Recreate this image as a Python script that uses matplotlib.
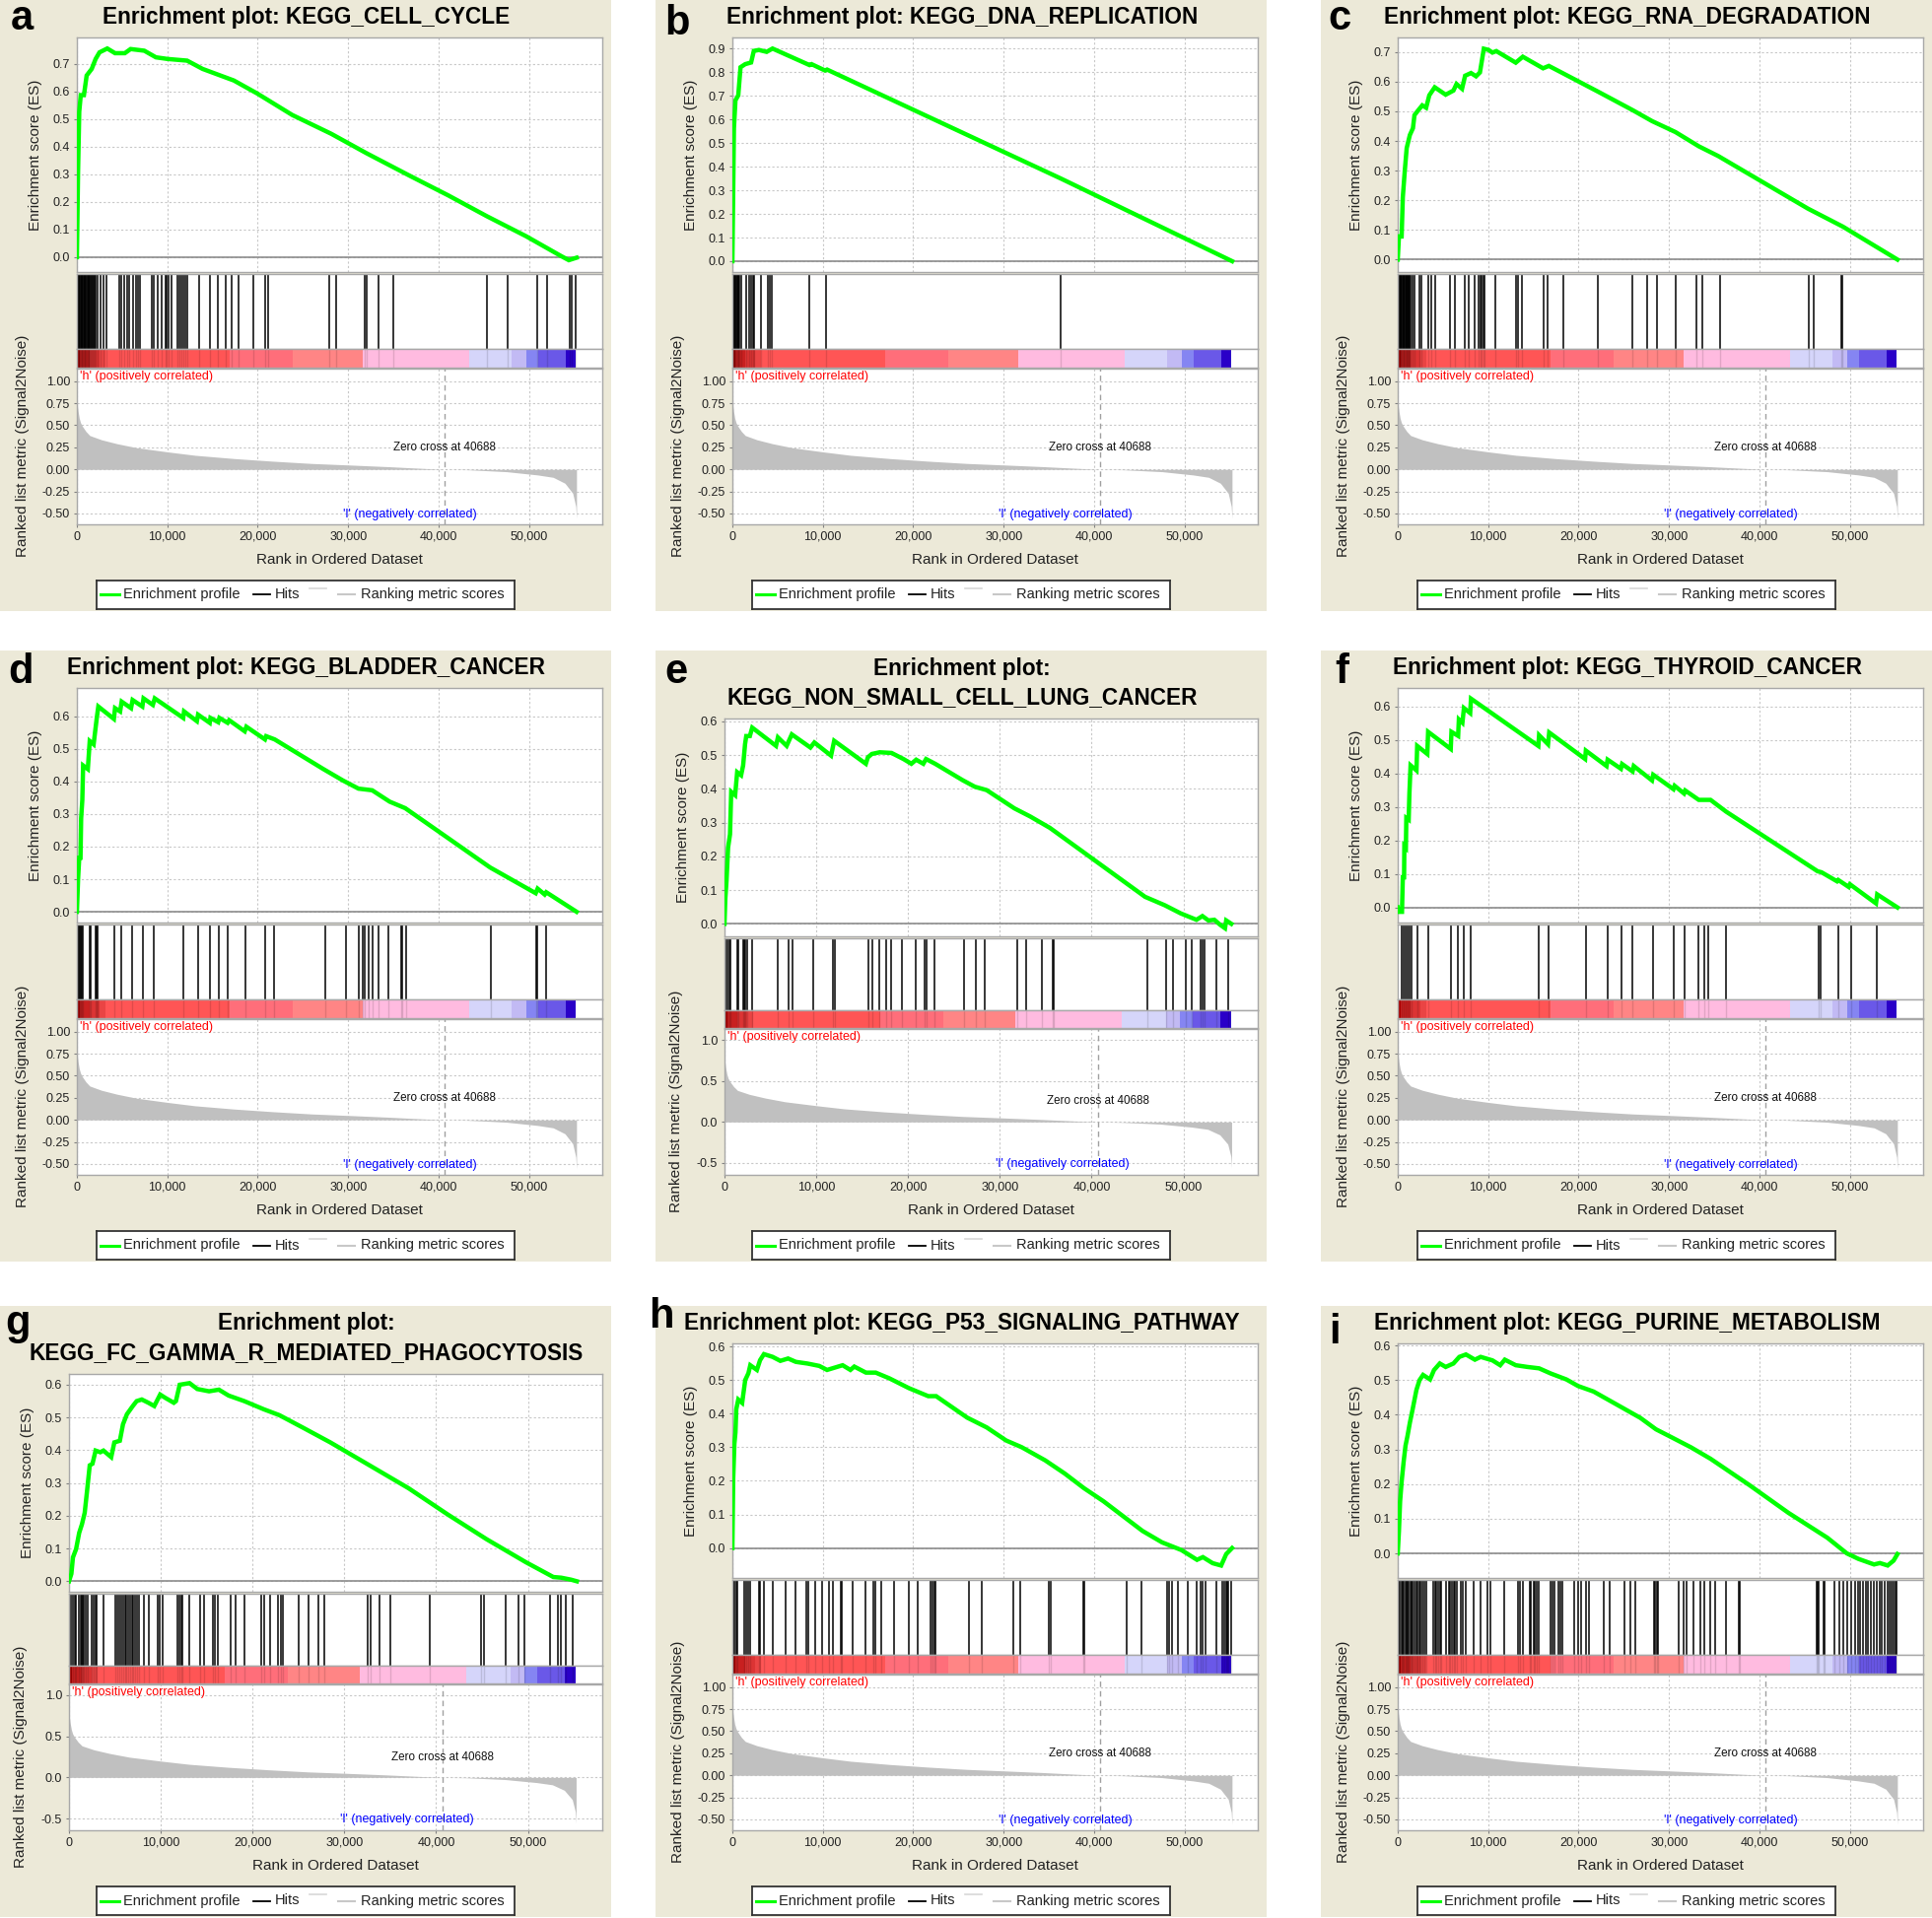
import matplotlib
matplotlib.use('Agg')
import matplotlib.pyplot as plt
from matplotlib.patches import Rectangle
from matplotlib.lines import Line2D

plt.rcParams['font.family'] = ['Liberation Sans', 'DejaVu Sans']

# ---------------- data ----------------
N_MAX = 55250
ZERO_CROSS = 40688
rank_ticks = [0, 10000, 20000, 30000, 40000, 50000]
rank_tick_labels = ['0', '10,000', '20,000', '30,000', '40,000', '50,000']

metric_rank = [0, 60, 130, 260, 400, 600, 1000, 1420, 2710, 4440, 6590, 10040, 13050, 17360, 21660,
               25970, 30280, 34590, 38250, 40688, 43200, 47510, 50950, 52670, 53970, 54830, 55170, 55250]
metric_val = [0.78, 0.72, 0.66, 0.58, 0.53, 0.49, 0.43, 0.384, 0.336, 0.291, 0.246, 0.198, 0.160, 0.123, 0.093,
              0.067, 0.049, 0.030, 0.011, 0.0, -0.004, -0.026, -0.063, -0.09, -0.157, -0.27, -0.42, -0.556]

cb_edges = [0, 340, 1420, 2500, 3140, 16930, 23820, 31660, 43330, 48070, 49660, 51040, 54050, 55200]
cb_colors = ['#A80000', '#C82020', '#DC3434', '#EA4444', '#FF5555', '#FF6E7A', '#FF8585',
             '#FFBBE0', '#D5D5FA', '#C2BAF4', '#8585F2', '#6A58E8', '#2A00C8']

titles = {
    'a': ['Enrichment plot: KEGG_CELL_CYCLE'],
    'b': ['Enrichment plot: KEGG_DNA_REPLICATION'],
    'c': ['Enrichment plot: KEGG_RNA_DEGRADATION'],
    'd': ['Enrichment plot: KEGG_BLADDER_CANCER'],
    'e': ['Enrichment plot:', 'KEGG_NON_SMALL_CELL_LUNG_CANCER'],
    'f': ['Enrichment plot: KEGG_THYROID_CANCER'],
    'g': ['Enrichment plot:', 'KEGG_FC_GAMMA_R_MEDIATED_PHAGOCYTOSIS'],
    'h': ['Enrichment plot: KEGG_P53_SIGNALING_PATHWAY'],
    'i': ['Enrichment plot: KEGG_PURINE_METABOLISM'],
}

es_a_rank = [0, 130, 260, 430, 780, 1080, 1640, 2070, 2500, 3360, 4220, 5300, 5940, 7450, 8740, 10040, 12190,
             13900, 17360, 19940, 23820, 28120, 32000, 36740, 41050, 45350, 49660, 53540, 54400, 55260]
es_a_val = [0, 0.313, 0.527, 0.587, 0.587, 0.658, 0.682, 0.718, 0.742, 0.756, 0.739, 0.739, 0.754, 0.748, 0.724,
            0.718, 0.712, 0.682, 0.640, 0.593, 0.515, 0.447, 0.377, 0.296, 0.224, 0.148, 0.076, 0.004, -0.011, -0.002]
hits_a = [30, 100, 180, 260, 330, 420, 500, 580, 660, 750, 830, 920, 1000, 1090, 1180, 1270, 1360, 1450, 1540,
          1640, 1750, 1860, 1970, 2070, 2280, 2630, 2930, 3230, 4650, 4870, 5210, 5510, 5810, 6160, 6590, 6810,
          7020, 8230, 8530, 8960, 9390, 9820, 9950, 10120, 10470, 11110, 11330, 11540, 11760, 11970, 12190,
          13480, 14770, 15630, 16500, 17140, 17870, 19510, 20800, 21150, 27910, 28640, 31790, 32000, 33380,
          35020, 45350, 47590, 50870, 52030, 54480, 54740, 55150]

es_b_rank = [0, 90, 170, 340, 650, 900, 1420, 2070, 2370, 2930, 3790, 4440, 8530, 8750, 10250, 10470, 36310, 55260]
es_b_val = [0, 0.299, 0.563, 0.681, 0.702, 0.821, 0.834, 0.841, 0.890, 0.894, 0.886, 0.900, 0.830, 0.834,
            0.807, 0.811, 0.350, 0.0]
hits_b = [20, 90, 170, 250, 340, 430, 520, 600, 690, 780, 990, 1510, 1850, 2070, 2280, 2410, 3140, 3920,
          4130, 4350, 8530, 10380, 36310]

es_c_rank = [0, 130, 430, 560, 780, 990, 1340, 1680, 1850, 2280, 2710, 3140, 3490, 4090, 5300, 6160, 6500,
             7110, 7450, 8100, 8660, 9090, 9520, 10040, 10470, 10900, 13050, 13830, 16070, 16710, 18220,
             22100, 25970, 28120, 30710, 33290, 35450, 45350, 49230, 55260]
es_c_val = [0, 0.078, 0.078, 0.21, 0.30, 0.376, 0.42, 0.443, 0.487, 0.504, 0.52, 0.512, 0.554, 0.581, 0.556,
            0.570, 0.592, 0.576, 0.620, 0.629, 0.618, 0.631, 0.711, 0.707, 0.698, 0.703, 0.664, 0.684, 0.645,
            0.653, 0.629, 0.567, 0.504, 0.467, 0.430, 0.382, 0.349, 0.172, 0.111, 0.0]
hits_c = [130, 220, 300, 380, 460, 540, 620, 700, 780, 860, 940, 1000, 1080, 1160, 1250, 1340, 1420, 1640,
          1850, 2410, 2630, 3360, 3660, 4090, 5810, 6370, 7370, 7800, 8530, 8960, 9170, 9300, 9430, 9560,
          10810, 13050, 13270, 13700, 16150, 16580, 18350, 22100, 25970, 27610, 28640, 30710, 33080, 33720,
          35660, 45480, 46000, 49010, 49140]

es_d_rank = [0, 130, 260, 400, 470, 600, 690, 1210, 1420, 1850, 2200, 2370, 4090, 4220, 4780, 4950, 5990, 6160,
             7240, 7370, 8400, 8610, 11760, 11850, 13270, 13400, 14690, 14770, 15630, 15760, 16670, 16840,
             18560, 18740, 20800, 20930, 21880, 27260, 29420, 31140, 32650, 34590, 36310, 45700, 50740,
             50950, 51730, 51900, 55260]
es_d_val = [0, 0.10, 0.166, 0.166, 0.287, 0.343, 0.449, 0.438, 0.524, 0.514, 0.595, 0.630, 0.592, 0.625,
            0.615, 0.645, 0.625, 0.650, 0.630, 0.655, 0.635, 0.655, 0.595, 0.615, 0.585, 0.605, 0.580, 0.595,
            0.582, 0.595, 0.580, 0.588, 0.554, 0.568, 0.529, 0.539, 0.529, 0.438, 0.403, 0.378, 0.373, 0.338,
            0.318, 0.136, 0.057, 0.071, 0.053, 0.060, 0.0]
hits_d = [90, 220, 340, 470, 560, 650, 1420, 1550, 2070, 2200, 2280, 4090, 4870, 6070, 7280, 8530, 11760,
          13390, 14770, 15720, 16710, 18650, 20800, 21790, 27480, 29760, 31230, 31570, 31870, 32220, 32650,
          33380, 34500, 35880, 36010, 36390, 45780, 50820, 50950, 51900]

es_e_rank = [0, 90, 220, 390, 600, 730, 1160, 1380, 1810, 2030, 2240, 2370, 2760, 3020, 5610, 5820, 6770,
             7330, 9360, 9790, 11610, 11950, 15400, 15620, 16050, 16910, 18200, 19500, 20360, 20880, 21660,
             21960, 22950, 25970, 27270, 28560, 31580, 33300, 35460, 45820, 47970, 49700, 51420, 52070,
             52720, 53370, 54010, 54530, 54660, 55220]
es_e_val = [0, 0.075, 0.128, 0.226, 0.265, 0.391, 0.381, 0.449, 0.440, 0.469, 0.532, 0.556, 0.556, 0.581,
            0.527, 0.552, 0.527, 0.561, 0.522, 0.537, 0.498, 0.542, 0.474, 0.493, 0.503, 0.508, 0.506, 0.488,
            0.474, 0.486, 0.474, 0.488, 0.474, 0.425, 0.406, 0.396, 0.342, 0.318, 0.284, 0.080, 0.055, 0.031,
            0.012, 0.023, 0.010, 0.012, -0.003, -0.013, 0.010, 0.0]
hits_e = [150, 300, 530, 680, 1360, 1470, 2040, 2190, 2300, 2420, 2980, 5770, 6940, 7400, 9660, 11850, 12000,
          15700, 16150, 16910, 17660, 18150, 19280, 20790, 21850, 22000, 22870, 26080, 27400, 28340, 31920,
          32870, 34570, 35810, 35890, 46080, 48080, 48910, 50230, 50870, 51920, 52110, 52300, 53620, 54870]

es_f_rank = [0, 130, 470, 560, 700, 730, 900, 950, 1210, 1290, 1420, 2070, 2150, 3270, 3360, 5860, 5940, 6680,
             6760, 7150, 7320, 8010, 8100, 15550, 15630, 16620, 16750, 20720, 20800, 23090, 23210, 24680,
             24810, 25970, 26100, 28120, 28250, 30490, 30620, 31660, 31790, 33290, 34590, 36310, 46430,
             46860, 48580, 48710, 49880, 50010, 52890, 53020, 55260]
es_f_val = [0, -0.013, -0.013, 0.09, 0.09, 0.183, 0.178, 0.267, 0.262, 0.340, 0.424, 0.409, 0.482, 0.458,
            0.524, 0.473, 0.524, 0.512, 0.561, 0.551, 0.595, 0.580, 0.623, 0.482, 0.514, 0.487, 0.522, 0.443,
            0.468, 0.422, 0.441, 0.414, 0.428, 0.406, 0.422, 0.379, 0.396, 0.353, 0.363, 0.340, 0.349, 0.321,
            0.321, 0.286, 0.108, 0.105, 0.078, 0.082, 0.061, 0.069, 0.012, 0.039, 0.0]
hits_f = [470, 650, 820, 1080, 1340, 1510, 2150, 3360, 5940, 6680, 7280, 8100, 15630, 16710, 20800, 23170,
          24770, 25970, 28210, 30490, 31700, 33290, 33850, 34370, 36310, 46560, 46770, 48710, 50090, 53020]

es_g_rank = [0, 260, 430, 770, 1110, 1410, 1710, 1960, 2260, 2560, 2900, 3410, 3750, 4600, 4940, 5540, 5880,
             6310, 6950, 7370, 7930, 8650, 9290, 9930, 10490, 11420, 11650, 12060, 13130, 13980, 15260,
             16330, 17390, 19100, 21230, 22930, 25490, 28470, 32740, 37000, 41260, 45520, 49790, 52770,
             53620, 54690, 55330]
es_g_val = [0, 0.023, 0.073, 0.098, 0.148, 0.174, 0.209, 0.274, 0.354, 0.359, 0.399, 0.394, 0.399, 0.379,
            0.424, 0.429, 0.479, 0.510, 0.535, 0.550, 0.555, 0.545, 0.535, 0.570, 0.560, 0.545, 0.550, 0.600,
            0.605, 0.587, 0.580, 0.585, 0.567, 0.550, 0.525, 0.507, 0.469, 0.424, 0.354, 0.284, 0.204, 0.128,
            0.058, 0.013, 0.011, 0.005, 0.0]
hits_g = [230, 420, 600, 790, 1060, 1280, 1430, 1550, 1660, 1810, 2040, 2490, 2680, 2940, 3060, 3810, 5060,
          5210, 5510, 5700, 5890, 6080, 6270, 6450, 6640, 6830, 7020, 7210, 7400, 7590, 8150, 8720, 9660,
          9850, 10230, 11850, 12000, 12190, 12300, 13060, 14300, 14760, 15700, 15890, 16270, 17660, 18150,
          19100, 20910, 21290, 21930, 22800, 23060, 23320, 25060, 26080, 27210, 27850, 32490, 32870, 33810,
          35060, 39290, 44870, 45210, 47590, 48990, 49590, 52380, 53250, 53550, 54120, 54870]

es_h_rank = [0, 90, 220, 340, 430, 650, 1080, 1420, 1770, 1980, 2710, 3060, 3490, 4440, 5300, 6160, 7020,
             8310, 9600, 10470, 12190, 13050, 13480, 14770, 15850, 17360, 19510, 21660, 22530, 25970, 28120,
             30280, 32000, 34590, 36740, 38890, 41050, 43200, 45350, 47510, 49660, 51380, 52030, 53110,
             54050, 54610, 55260]
es_h_val = [0, 0.207, 0.310, 0.344, 0.413, 0.442, 0.432, 0.500, 0.520, 0.544, 0.530, 0.559, 0.577, 0.569,
            0.557, 0.564, 0.554, 0.549, 0.542, 0.530, 0.544, 0.530, 0.540, 0.522, 0.522, 0.505, 0.476, 0.452,
            0.452, 0.388, 0.359, 0.320, 0.300, 0.261, 0.222, 0.178, 0.139, 0.095, 0.051, 0.017, -0.006,
            -0.035, -0.027, -0.045, -0.052, -0.018, 0.0]
hits_h = [20, 130, 260, 390, 520, 1340, 1510, 1770, 1940, 2930, 3060, 3490, 4440, 5940, 6930, 8180, 8400,
          9170, 9950, 10680, 11110, 11970, 12100, 13270, 14770, 15630, 15760, 16410, 17870, 19510, 20460,
          21880, 22100, 22310, 22440, 26190, 27610, 31050, 31790, 35020, 35230, 38810, 38890, 43630, 45270,
          48020, 48280, 48580, 49230, 50310, 51380, 51730, 52030, 52330, 53540, 54180, 54400, 54610, 54740,
          54830, 55170]

es_i_rank = [0, 130, 260, 430, 650, 860, 1080, 1340, 1640, 2070, 2410, 2800, 3570, 4010, 4650, 5300, 6160,
             6810, 7540, 8530, 9170, 10470, 11330, 11840, 13050, 14340, 15630, 16930, 18650, 19940, 21660,
             24250, 26830, 28560, 30280, 32430, 34590, 38890, 43200, 47510, 49660, 50950, 52670, 53320,
             54180, 54830, 55260]
es_i_val = [0, 0.064, 0.150, 0.207, 0.264, 0.311, 0.339, 0.377, 0.415, 0.472, 0.500, 0.515, 0.502, 0.529,
            0.548, 0.538, 0.548, 0.567, 0.574, 0.559, 0.567, 0.557, 0.543, 0.559, 0.543, 0.538, 0.534, 0.519,
            0.502, 0.483, 0.467, 0.429, 0.391, 0.358, 0.335, 0.306, 0.273, 0.197, 0.117, 0.045, 0.0, -0.016,
            -0.032, -0.028, -0.035, -0.021, -0.002]
hits_i = [130, 260, 390, 560, 690, 820, 950, 1080, 1250, 1380, 1510, 1680, 1850, 2070, 2200, 2370, 2500,
          2710, 2930, 3140, 3920, 4090, 4260, 4440, 4650, 4780, 5380, 5640, 5810, 5990, 6160, 6370, 6590,
          7020, 7240, 7540, 8440, 9170, 9950, 10250, 11760, 13270, 13570, 13830, 14560, 14770, 14990, 15200,
          15420, 15630, 16930, 17140, 17360, 17790, 18000, 18220, 19510, 19940, 20290, 20800, 21150, 22740,
          23390, 25110, 25760, 26320, 28340, 28470, 28640, 28770, 31050, 31570, 31910, 32650, 33510, 33940,
          34590, 35100, 36310, 37690, 37820, 46300, 46430, 46560, 47080, 47200, 48280, 48800, 49230, 49660,
          50090, 50610, 50870, 51170, 51470, 51730, 52030, 52330, 52670, 53020, 53320, 53540, 53880, 54180,
          54400, 54610, 54830, 55040, 55170]

es_ylims = {'a': (-0.054, 0.796), 'b': (-0.046, 0.947), 'c': (-0.042, 0.749), 'd': (-0.033, 0.687),
            'e': (-0.037, 0.608), 'f': (-0.045, 0.655), 'g': (-0.032, 0.633), 'h': (-0.089, 0.609),
            'i': (-0.071, 0.606)}
es_ntick = {'a': 8, 'b': 10, 'c': 8, 'd': 7, 'e': 7, 'f': 7, 'g': 7, 'h': 7, 'i': 7}

# ---------------- layout ----------------
W, H = 1960, 1946
XMAX = 58100
BEIGE = '#ECE9D8'
GRID = '#C8C8C8'
FRAME = '#A8A8A8'

LAYOUT = {
    'A': dict(left=78, right=611, es_top=38, es_bot=276, hits_top=278, cb_top=354, cb_bot=373, met_bot=532,
              met_ylim=(-0.623, 1.142), met_ticks=[1.0, 0.75, 0.5, 0.25, 0.0, -0.25, -0.5], met_fmt='%.2f',
              mlab_dx=55),
    'B': dict(left=70, right=611, es_top=69, es_bot=290, hits_top=292, cb_top=365, cb_bot=383, met_bot=532,
              met_ylim=(-0.644, 1.132), met_ticks=[1.0, 0.5, 0.0, -0.5], met_fmt='%.1f', mlab_dx=49),
}

panels = [
    ('a', (0, 0), 'A', es_a_rank, es_a_val, hits_a, (22, 30)),
    ('b', (665, 0), 'A', es_b_rank, es_b_val, hits_b, (22, 35)),
    ('c', (1340, 0), 'A', es_c_rank, es_c_val, hits_c, (19, 30)),
    ('d', (0, 660), 'A', es_d_rank, es_d_val, hits_d, (21, 33)),
    ('e', (665, 660), 'B', es_e_rank, es_e_val, hits_e, (21, 33)),
    ('f', (1340, 660), 'A', es_f_rank, es_f_val, hits_f, (21, 33)),
    ('g', (0, 1325), 'B', es_g_rank, es_g_val, hits_g, (18, 29)),
    ('h', (665, 1325), 'A', es_h_rank, es_h_val, hits_h, (6, 22)),
    ('i', (1340, 1325), 'A', es_i_rank, es_i_val, hits_i, (14, 38)),
]

fig = plt.figure(figsize=(W / 100, H / 100), dpi=100)
fig.patch.set_facecolor('white')


def px_axes(x0, y0, x1, y1):
    return fig.add_axes([x0 / W, 1 - y1 / H, (x1 - x0) / W, (y1 - y0) / H])


def ftext(x, y, s, **kw):
    return fig.text(x / W, 1 - y / H, s, **kw)


def style_frame(ax):
    for sp in ax.spines.values():
        sp.set_color(FRAME)
        sp.set_linewidth(1.0)


for letter, (ox, oy), lay, es_r, es_v, hits, (lx, ly) in panels:
    L = LAYOUT[lay]
    left, right = ox + L['left'], ox + L['right']
    # panel background
    fig.add_artist(Rectangle((ox / W, 1 - (oy + 620) / H), 620 / W, 620 / H, transform=fig.transFigure,
                             facecolor=BEIGE, edgecolor='none', zorder=-5))

    # --- ES plot ---
    ax = px_axes(left, oy + L['es_top'], right, oy + L['es_bot'])
    ax.set_facecolor('white')
    style_frame(ax)
    ax.set_xlim(0, XMAX)
    ax.set_ylim(*es_ylims[letter])
    yt = [k / 10 for k in range(es_ntick[letter])]
    ax.set_yticks(yt)
    ax.set_yticklabels(['%.1f' % v for v in yt])
    ax.set_xticks(rank_ticks)
    ax.set_xticklabels([])
    ax.grid(True, color=GRID, linestyle=(0, (2, 2)), linewidth=0.8)
    ax.axhline(0, color='#8C8C8C', linewidth=1.2, zorder=2)
    ax.plot(es_r, es_v, color='#00FF00', linewidth=3.2, zorder=3, solid_joinstyle='miter')
    ax.tick_params(axis='both', labelsize=9, length=2, color='#808080', pad=3, labelcolor='#222222')
    ax.tick_params(axis='x', length=0)

    # --- hits ---
    axh = px_axes(left, oy + L['hits_top'], right, oy + L['cb_top'])
    axh.set_facecolor('white')
    style_frame(axh)
    axh.set_xlim(0, XMAX)
    axh.set_ylim(0, 1)
    axh.set_xticks([])
    axh.set_yticks([])
    axh.vlines(hits, 0, 1, color='black', linewidth=1.1)

    # --- colour bar ---
    axc = px_axes(left, oy + L['cb_top'], right, oy + L['cb_bot'])
    axc.set_facecolor('white')
    style_frame(axc)
    axc.set_xlim(0, XMAX)
    axc.set_ylim(0, 1)
    axc.set_xticks([])
    axc.set_yticks([])
    for k, c in enumerate(cb_colors):
        axc.axvspan(cb_edges[k], cb_edges[k + 1], color=c, linewidth=0)
    axc.vlines(hits, 0, 1, color='black', linewidth=1.0, alpha=0.12)

    # --- ranked metric ---
    axm = px_axes(left, oy + L['cb_bot'] + 1, right, oy + L['met_bot'])
    axm.set_facecolor('white')
    style_frame(axm)
    axm.set_xlim(0, XMAX)
    axm.set_ylim(*L['met_ylim'])
    axm.set_yticks(L['met_ticks'])
    axm.set_yticklabels([L['met_fmt'] % v for v in L['met_ticks']])
    axm.set_xticks(rank_ticks)
    axm.set_xticklabels(rank_tick_labels)
    axm.grid(True, color=GRID, linestyle=(0, (2, 2)), linewidth=0.8)
    axm.fill_between(metric_rank, 0, metric_val, color='#C0C0C0', linewidth=0, zorder=2)
    axm.axvline(ZERO_CROSS, color='#A0A0A0', linestyle=(0, (4, 3)), linewidth=1.0, zorder=3)
    axm.tick_params(axis='both', labelsize=9, length=2, color='#808080', pad=3, labelcolor='#222222')
    axm.text(ZERO_CROSS, 0.25, 'Zero cross at 40688', ha='center', va='center', fontsize=8.4,
             color='#111111', zorder=4)
    axm.text(36800, -0.51, "'l' (negatively correlated)", ha='center', va='center', fontsize=9,
             color='#0000FF', zorder=4)
    ftext(left + 3, oy + L['cb_bot'] + 9, "'h' (positively correlated)", ha='left', va='center',
          fontsize=9, color='#FF0000')

    # --- labels ---
    ftext(left - 42, oy + (L['es_top'] + L['es_bot']) / 2, 'Enrichment score (ES)', rotation=90,
          ha='center', va='center', fontsize=11, color='#222222')
    ftext(left - L['mlab_dx'], oy + (L['cb_bot'] + L['met_bot']) / 2, 'Ranked list metric (Signal2Noise)',
          rotation=90, ha='center', va='center', fontsize=11, color='#222222')
    ftext((left + right) / 2, oy + 568, 'Rank in Ordered Dataset', ha='center', va='center',
          fontsize=11, color='#222222')

    # --- titles ---
    tl = titles[letter]
    if len(tl) == 1:
        ftext(ox + 311, oy + 17.5, tl[0], ha='center', va='center', fontsize=16.3, fontweight='bold')
    else:
        ftext(ox + 311, oy + 18, tl[0], ha='center', va='center', fontsize=16.3, fontweight='bold')
        ftext(ox + 311, oy + 48, tl[1], ha='center', va='center', fontsize=16.3, fontweight='bold')
    ftext(ox + lx, oy + ly, letter, ha='center', va='baseline', fontsize=30, fontweight='bold')

    # --- legend box ---
    lg = px_axes(ox + 98, oy + 589, ox + 522, oy + 618)
    lg.set_facecolor('white')
    for sp in lg.spines.values():
        sp.set_color('#333333')
        sp.set_linewidth(1.3)
    lg.set_xlim(0, 424)
    lg.set_ylim(29, 0)
    lg.set_xticks([])
    lg.set_yticks([])
    lg.add_line(Line2D([4, 23], [14.5, 14.5], color='#00FF00', linewidth=2.2))
    lg.text(27, 14.5, 'Enrichment profile', ha='left', va='center', fontsize=10.5, color='#222222')
    lg.add_line(Line2D([159, 176], [14.5, 14.5], color='black', linewidth=1.3))
    lg.text(181, 14.5, 'Hits', ha='left', va='center', fontsize=10.5, color='#222222')
    lg.add_line(Line2D([216, 233], [8, 8], color='#D8D8D8', linewidth=1.2))
    lg.add_line(Line2D([245, 262], [14.5, 14.5], color='#C8C8C8', linewidth=1.5))
    lg.text(268, 14.5, 'Ranking metric scores', ha='left', va='center', fontsize=10.5, color='#222222')

fig.savefig('out.png', dpi=100, facecolor='white')
